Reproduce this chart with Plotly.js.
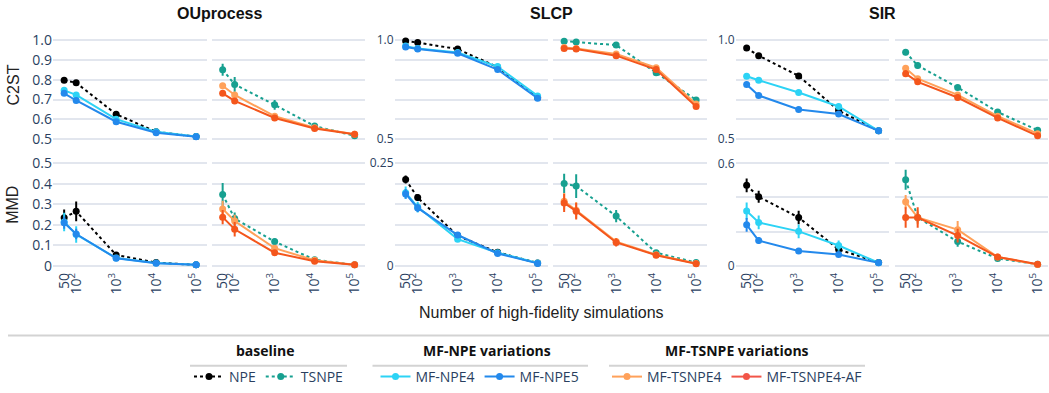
<!DOCTYPE html>
<html><head><meta charset="utf-8">
<script src="https://cdn.plot.ly/plotly-3.0.1.min.js"></script>
<style>html,body{margin:0;padding:0;background:#fff}#chart{width:1049px;height:393px}</style>
</head><body><div id="chart"></div>
<script>
const W = 1049, H = 393;
const sims = [50, 100, 1000, 10000, 100000];
const simTickText = ['50', '10<sup>2</sup>', '10<sup>3</sup>', '10<sup>4</sup>', '10<sup>5</sup>'];
const problems = ['OUprocess', 'SLCP', 'SIR'];
const metrics = ['C2ST', 'MMD'];
const methodsLeft = ['NPE', 'MF-NPE4', 'MF-NPE5'];
const methodsRight = ['TSNPE', 'MF-TSNPE4', 'MF-TSNPE4-AF'];
const legendGroupTitles = ['baseline', 'MF-NPE variations', 'MF-TSNPE variations'];

// ---- C2ST ----
const OU_C2ST_NPE = [0.797, 0.784, 0.626, 0.537, 0.513];
const OU_C2ST_NPE_err = [0.010, 0.012, 0.006, 0.004, 0.003];
const OU_C2ST_MFNPE4 = [0.746, 0.723, 0.601, 0.537, 0.514];
const OU_C2ST_MFNPE4_err = [0.010, 0.010, 0.006, 0.004, 0.003];
const OU_C2ST_MFNPE5 = [0.731, 0.695, 0.588, 0.533, 0.512];
const OU_C2ST_MFNPE5_err = [0.008, 0.008, 0.006, 0.004, 0.003];
const OU_C2ST_TSNPE = [0.850, 0.776, 0.673, 0.566, 0.517];
const OU_C2ST_TSNPE_err = [0.030, 0.037, 0.025, 0.008, 0.004];
const OU_C2ST_MFTSNPE4 = [0.769, 0.723, 0.616, 0.558, 0.525];
const OU_C2ST_MFTSNPE4_err = [0.010, 0.010, 0.008, 0.005, 0.004];
const OU_C2ST_MFTSNPE4AF = [0.731, 0.693, 0.607, 0.554, 0.525];
const OU_C2ST_MFTSNPE4AF_err = [0.010, 0.010, 0.008, 0.005, 0.004];

const SLCP_C2ST_NPE = [0.995, 0.987, 0.954, 0.863, 0.710];
const SLCP_C2ST_NPE_err = [0.003, 0.004, 0.004, 0.005, 0.006];
const SLCP_C2ST_MFNPE4 = [0.969, 0.957, 0.937, 0.866, 0.718];
const SLCP_C2ST_MFNPE4_err = [0.005, 0.005, 0.005, 0.006, 0.006];
const SLCP_C2ST_MFNPE5 = [0.965, 0.954, 0.933, 0.851, 0.706];
const SLCP_C2ST_MFNPE5_err = [0.005, 0.005, 0.005, 0.006, 0.006];
const SLCP_C2ST_TSNPE = [0.994, 0.990, 0.974, 0.835, 0.698];
const SLCP_C2ST_TSNPE_err = [0.003, 0.003, 0.005, 0.008, 0.008];
const SLCP_C2ST_MFTSNPE4 = [0.962, 0.957, 0.929, 0.860, 0.677];
const SLCP_C2ST_MFTSNPE4_err = [0.005, 0.005, 0.006, 0.006, 0.008];
const SLCP_C2ST_MFTSNPE4AF = [0.957, 0.954, 0.921, 0.851, 0.665];
const SLCP_C2ST_MFTSNPE4AF_err = [0.005, 0.005, 0.006, 0.006, 0.008];

const SIR_C2ST_NPE = [0.959, 0.921, 0.819, 0.644, 0.542];
const SIR_C2ST_NPE_err = [0.004, 0.005, 0.006, 0.005, 0.004];
const SIR_C2ST_MFNPE4 = [0.817, 0.797, 0.735, 0.665, 0.542];
const SIR_C2ST_MFNPE4_err = [0.006, 0.006, 0.006, 0.006, 0.004];
const SIR_C2ST_MFNPE5 = [0.776, 0.720, 0.650, 0.627, 0.542];
const SIR_C2ST_MFNPE5_err = [0.006, 0.005, 0.004, 0.004, 0.004];
const SIR_C2ST_TSNPE = [0.938, 0.871, 0.761, 0.637, 0.545];
const SIR_C2ST_TSNPE_err = [0.015, 0.015, 0.012, 0.010, 0.005];
const SIR_C2ST_MFTSNPE4 = [0.858, 0.805, 0.723, 0.616, 0.528];
const SIR_C2ST_MFTSNPE4_err = [0.015, 0.012, 0.012, 0.008, 0.005];
const SIR_C2ST_MFTSNPE4AF = [0.830, 0.789, 0.710, 0.607, 0.517];
const SIR_C2ST_MFTSNPE4AF_err = [0.017, 0.015, 0.015, 0.008, 0.005];

// ---- MMD ----
const OU_MMD_NPE = [0.234, 0.265, 0.053, 0.016, 0.005];
const OU_MMD_NPE_err = [0.040, 0.048, 0.008, 0.003, 0.002];
const OU_MMD_MFNPE4 = [0.213, 0.153, 0.038, 0.014, 0.005];
const OU_MMD_MFNPE4_err = [0.045, 0.040, 0.008, 0.003, 0.002];
const OU_MMD_MFNPE5 = [0.210, 0.155, 0.037, 0.013, 0.005];
const OU_MMD_MFNPE5_err = [0.030, 0.025, 0.006, 0.003, 0.002];
const OU_MMD_TSNPE = [0.347, 0.230, 0.118, 0.030, 0.005];
const OU_MMD_TSNPE_err = [0.056, 0.030, 0.015, 0.005, 0.002];
const OU_MMD_MFTSNPE4 = [0.277, 0.218, 0.086, 0.027, 0.005];
const OU_MMD_MFTSNPE4_err = [0.040, 0.030, 0.010, 0.004, 0.002];
const OU_MMD_MFTSNPE4AF = [0.237, 0.178, 0.064, 0.022, 0.005];
const OU_MMD_MFTSNPE4AF_err = [0.035, 0.035, 0.010, 0.004, 0.002];

const SLCP_MMD_NPE = [0.210, 0.166, 0.073, 0.033, 0.007];
const SLCP_MMD_NPE_err = [0.010, 0.008, 0.004, 0.003, 0.001];
const SLCP_MMD_MFNPE4 = [0.178, 0.143, 0.065, 0.032, 0.007];
const SLCP_MMD_MFNPE4_err = [0.015, 0.013, 0.005, 0.003, 0.001];
const SLCP_MMD_MFNPE5 = [0.175, 0.141, 0.075, 0.030, 0.006];
const SLCP_MMD_MFNPE5_err = [0.012, 0.010, 0.004, 0.003, 0.001];
const SLCP_MMD_TSNPE = [0.200, 0.194, 0.121, 0.032, 0.008];
const SLCP_MMD_TSNPE_err = [0.024, 0.029, 0.015, 0.004, 0.001];
const SLCP_MMD_MFTSNPE4 = [0.157, 0.135, 0.059, 0.027, 0.006];
const SLCP_MMD_MFTSNPE4_err = [0.020, 0.020, 0.008, 0.003, 0.001];
const SLCP_MMD_MFTSNPE4AF = [0.153, 0.133, 0.057, 0.026, 0.005];
const SLCP_MMD_MFTSNPE4AF_err = [0.022, 0.020, 0.010, 0.003, 0.001];

const SIR_MMD_NPE = [0.471, 0.404, 0.283, 0.096, 0.020];
const SIR_MMD_NPE_err = [0.040, 0.035, 0.040, 0.020, 0.005];
const SIR_MMD_MFNPE4 = [0.321, 0.254, 0.202, 0.119, 0.018];
const SIR_MMD_MFNPE4_err = [0.050, 0.040, 0.040, 0.030, 0.005];
const SIR_MMD_MFNPE5 = [0.240, 0.148, 0.087, 0.066, 0.018];
const SIR_MMD_MFNPE5_err = [0.040, 0.020, 0.015, 0.010, 0.005];
const SIR_MMD_TSNPE = [0.504, 0.283, 0.142, 0.043, 0.010];
const SIR_MMD_TSNPE_err = [0.058, 0.030, 0.030, 0.010, 0.003];
const SIR_MMD_MFTSNPE4 = [0.375, 0.283, 0.212, 0.052, 0.008];
const SIR_MMD_MFTSNPE4_err = [0.040, 0.040, 0.050, 0.010, 0.003];
const SIR_MMD_MFTSNPE4AF = [0.283, 0.283, 0.177, 0.052, 0.010];
const SIR_MMD_MFTSNPE4AF_err = [0.060, 0.060, 0.040, 0.010, 0.003];

// y tick definitions
const c2stTickVals = [0.5, 0.6, 0.7, 0.8, 0.9, 1.0];
const c2stTickTextFull = ['0.5', '0.6', '0.7', '0.8', '0.9', '1.0'];
const c2stTickTextShort = ['0.5', '', '', '', '', '1.0'];
const ouMmdTickVals = [0, 0.1, 0.2, 0.3, 0.4, 0.5];
const ouMmdTickText = ['0', '0.1', '0.2', '0.3', '0.4', '0.5'];
const slcpMmdTickVals = [0, 0.05, 0.1, 0.15, 0.2, 0.25];
const slcpMmdTickText = ['0', '', '', '', '', '0.25'];
const sirMmdTickVals = [0, 0.2, 0.4, 0.6];
const sirMmdTickText = ['0', '', '', '0.6'];

const DATA = {
  OUprocess: {
    C2ST: {'NPE': [OU_C2ST_NPE, OU_C2ST_NPE_err], 'MF-NPE4': [OU_C2ST_MFNPE4, OU_C2ST_MFNPE4_err], 'MF-NPE5': [OU_C2ST_MFNPE5, OU_C2ST_MFNPE5_err],
           'TSNPE': [OU_C2ST_TSNPE, OU_C2ST_TSNPE_err], 'MF-TSNPE4': [OU_C2ST_MFTSNPE4, OU_C2ST_MFTSNPE4_err], 'MF-TSNPE4-AF': [OU_C2ST_MFTSNPE4AF, OU_C2ST_MFTSNPE4AF_err]},
    MMD: {'NPE': [OU_MMD_NPE, OU_MMD_NPE_err], 'MF-NPE4': [OU_MMD_MFNPE4, OU_MMD_MFNPE4_err], 'MF-NPE5': [OU_MMD_MFNPE5, OU_MMD_MFNPE5_err],
           'TSNPE': [OU_MMD_TSNPE, OU_MMD_TSNPE_err], 'MF-TSNPE4': [OU_MMD_MFTSNPE4, OU_MMD_MFTSNPE4_err], 'MF-TSNPE4-AF': [OU_MMD_MFTSNPE4AF, OU_MMD_MFTSNPE4AF_err]}
  },
  SLCP: {
    C2ST: {'NPE': [SLCP_C2ST_NPE, SLCP_C2ST_NPE_err], 'MF-NPE4': [SLCP_C2ST_MFNPE4, SLCP_C2ST_MFNPE4_err], 'MF-NPE5': [SLCP_C2ST_MFNPE5, SLCP_C2ST_MFNPE5_err],
           'TSNPE': [SLCP_C2ST_TSNPE, SLCP_C2ST_TSNPE_err], 'MF-TSNPE4': [SLCP_C2ST_MFTSNPE4, SLCP_C2ST_MFTSNPE4_err], 'MF-TSNPE4-AF': [SLCP_C2ST_MFTSNPE4AF, SLCP_C2ST_MFTSNPE4AF_err]},
    MMD: {'NPE': [SLCP_MMD_NPE, SLCP_MMD_NPE_err], 'MF-NPE4': [SLCP_MMD_MFNPE4, SLCP_MMD_MFNPE4_err], 'MF-NPE5': [SLCP_MMD_MFNPE5, SLCP_MMD_MFNPE5_err],
           'TSNPE': [SLCP_MMD_TSNPE, SLCP_MMD_TSNPE_err], 'MF-TSNPE4': [SLCP_MMD_MFTSNPE4, SLCP_MMD_MFTSNPE4_err], 'MF-TSNPE4-AF': [SLCP_MMD_MFTSNPE4AF, SLCP_MMD_MFTSNPE4AF_err]}
  },
  SIR: {
    C2ST: {'NPE': [SIR_C2ST_NPE, SIR_C2ST_NPE_err], 'MF-NPE4': [SIR_C2ST_MFNPE4, SIR_C2ST_MFNPE4_err], 'MF-NPE5': [SIR_C2ST_MFNPE5, SIR_C2ST_MFNPE5_err],
           'TSNPE': [SIR_C2ST_TSNPE, SIR_C2ST_TSNPE_err], 'MF-TSNPE4': [SIR_C2ST_MFTSNPE4, SIR_C2ST_MFTSNPE4_err], 'MF-TSNPE4-AF': [SIR_C2ST_MFTSNPE4AF, SIR_C2ST_MFTSNPE4AF_err]},
    MMD: {'NPE': [SIR_MMD_NPE, SIR_MMD_NPE_err], 'MF-NPE4': [SIR_MMD_MFNPE4, SIR_MMD_MFNPE4_err], 'MF-NPE5': [SIR_MMD_MFNPE5, SIR_MMD_MFNPE5_err],
           'TSNPE': [SIR_MMD_TSNPE, SIR_MMD_TSNPE_err], 'MF-TSNPE4': [SIR_MMD_MFTSNPE4, SIR_MMD_MFTSNPE4_err], 'MF-TSNPE4-AF': [SIR_MMD_MFTSNPE4AF, SIR_MMD_MFTSNPE4AF_err]}
  }
};

const STYLE = {
  'NPE':          {color: '#000000', legendColor: '#000000', dash: 'dot',   legend: 'legend'},
  'TSNPE':        {color: '#17a090', legendColor: '#17a090', dash: 'dot',   legend: 'legend'},
  'MF-NPE4':      {color: '#2cd3f5', legendColor: '#2cd3f5', dash: 'solid', legend: 'legend2'},
  'MF-NPE5':      {color: '#2389ec', legendColor: '#2389ec', dash: 'solid', legend: 'legend2'},
  'MF-TSNPE4':    {color: '#ffa15a', legendColor: '#ffa15a', dash: 'solid', legend: 'legend3'},
  'MF-TSNPE4-AF': {color: '#f4561c', legendColor: '#f25548', dash: 'solid', legend: 'legend3'}
};

const xStarts = [53, 211.5, 394.5, 553, 735.5, 894.5];
const panelW = 153.5;
const rowDomains = [[1 - 150 / H, 1 - 32 / H], [1 - 274 / H, 1 - 156 / H]];
const yRanges = {
  C2ST: {OUprocess: [0.459, 1.043], SLCP: [0.459, 1.043], SIR: [0.459, 1.043]},
  MMD: {OUprocess: [-0.0158, 0.5478], SLCP: [-0.0079, 0.2739], SIR: [-0.019, 0.659]}
};
const yTicks = {
  C2ST: {OUprocess: [c2stTickVals, c2stTickTextFull], SLCP: [c2stTickVals, c2stTickTextShort], SIR: [c2stTickVals, c2stTickTextShort]},
  MMD: {OUprocess: [ouMmdTickVals, ouMmdTickText], SLCP: [slcpMmdTickVals, slcpMmdTickText], SIR: [sirMmdTickVals, sirMmdTickText]}
};

const traces = [];
const layout = {
  width: W, height: H,
  margin: {l: 0, r: 0, t: 0, b: 0},
  paper_bgcolor: '#ffffff', plot_bgcolor: '#ffffff',
  font: {family: 'Open Sans, sans-serif', color: '#2a3f5f'},
  showlegend: true,
  annotations: [], shapes: []
};

for (let r = 0; r < 2; r++) {
  for (let c = 0; c < 6; c++) {
    const n = r * 6 + c + 1;
    const suffix = n === 1 ? '' : String(n);
    const prob = problems[Math.floor(c / 2)];
    const metric = metrics[r];
    const x0 = xStarts[c];
    layout['xaxis' + suffix] = {
      type: 'log', domain: [x0 / W, (x0 + panelW) / W], range: [1.42, 5.26],
      anchor: 'y' + suffix, tickmode: 'array', tickvals: sims, ticktext: simTickText,
      tickangle: -90, showticklabels: r === 1, showgrid: false, zeroline: false, showline: false,
      ticks: '', tickfont: {family: 'Open Sans, sans-serif', size: 14, color: '#2a3f5f'}
    };
    const tk = yTicks[metric][prob];
    layout['yaxis' + suffix] = {
      domain: rowDomains[r], range: yRanges[metric][prob], anchor: 'x' + suffix,
      tickmode: 'array', tickvals: tk[0], ticktext: tk[1],
      showticklabels: c % 2 === 0, showgrid: true, gridcolor: '#e2e6ee', gridwidth: 2,
      zeroline: false, showline: false, ticks: '',
      tickfont: {family: 'Open Sans, sans-serif', size: prob === 'OUprocess' ? 14 : 12, color: '#2a3f5f'}
    };
    const methods = c % 2 === 0 ? methodsLeft : methodsRight;
    methods.forEach(m => {
      const d = DATA[prob][metric][m];
      const st = STYLE[m];
      traces.push({
        type: 'scatter', mode: 'lines+markers', x: sims, y: d[0],
        xaxis: 'x' + suffix, yaxis: 'y' + suffix, name: m, showlegend: false,
        line: {color: st.color, width: 2, dash: st.dash},
        marker: {color: st.color, size: 7},
        error_y: {type: 'data', array: d[1], visible: true, color: st.color, thickness: 2, width: 0}
      });
    });
  }
}

// legend entries
['NPE', 'TSNPE', 'MF-NPE4', 'MF-NPE5', 'MF-TSNPE4', 'MF-TSNPE4-AF'].forEach(m => {
  const st = STYLE[m];
  traces.push({
    type: 'scatter', mode: 'lines+markers', x: [null], y: [null], name: m,
    legend: st.legend, showlegend: true,
    line: {color: st.legendColor, width: 2, dash: st.dash},
    marker: {color: st.legendColor, size: 7}
  });
});

const legendBase = {
  orientation: 'h', xanchor: 'center', yanchor: 'middle', y: 1 - 384 / H,
  bgcolor: 'rgba(0,0,0,0)', font: {family: 'Open Sans, sans-serif', size: 14, color: '#2a3f5f'}
};
const groupCenters = [268.5, 480, 737];
layout.legend = Object.assign({}, legendBase, {x: groupCenters[0] / W});
layout.legend2 = Object.assign({}, legendBase, {x: groupCenters[1] / W});
layout.legend3 = Object.assign({}, legendBase, {x: groupCenters[2] / W});

// legend group titles
const legendTitleFont = {family: 'Open Sans, sans-serif', size: 14, color: '#111111'};
[265, 487, 737].forEach((cx, i) => {
  layout.annotations.push({xref: 'paper', yref: 'paper', x: cx / W, y: 1 - 357 / H, text: '<b>' + legendGroupTitles[i] + '</b>',
    showarrow: false, font: legendTitleFont, xanchor: 'center', yanchor: 'middle'});
});

// decorative separator lines
const lineStyle = {color: '#d3d3d3', width: 2};
layout.shapes.push({type: 'line', xref: 'paper', yref: 'paper', x0: 8 / W, x1: 1, y0: 1 - 341.7 / H, y1: 1 - 341.7 / H, line: lineStyle});
[[190, 347], [372.5, 588], [609, 865]].forEach(s => {
  layout.shapes.push({type: 'line', xref: 'paper', yref: 'paper', x0: s[0] / W, x1: s[1] / W, y0: 1 - 372.5 / H, y1: 1 - 372.5 / H, line: lineStyle});
});

// column titles
const titleFont = {family: 'Liberation Sans, Arial, sans-serif', size: 16, color: '#111111'};
[[219.5, 'OUprocess'], [551, 'SLCP'], [882, 'SIR']].forEach(t => {
  layout.annotations.push({xref: 'paper', yref: 'paper', x: t[0] / W, y: 1 - 14 / H, text: '<b>' + t[1] + '</b>', showarrow: false, font: titleFont, xanchor: 'center', yanchor: 'middle'});
});
// row titles
const axTitleFont = {family: 'Liberation Sans, Arial, sans-serif', size: 16, color: '#222222'};
[[87, 'C2ST'], [208.5, 'MMD']].forEach(t => {
  layout.annotations.push({xref: 'paper', yref: 'paper', x: 13 / W, y: 1 - t[0] / H, text: t[1], textangle: -90, showarrow: false, font: axTitleFont, xanchor: 'center', yanchor: 'middle'});
});
layout.annotations.push({xref: 'paper', yref: 'paper', x: 541 / W, y: 1 - 318 / H, text: 'Number of high-fidelity simulations', showarrow: false,
  font: {family: 'Liberation Sans, Arial, sans-serif', size: 16, color: '#222222'}, xanchor: 'center', yanchor: 'middle'});

Plotly.newPlot('chart', traces, layout, {displayModeBar: false, staticPlot: true});
</script>
</body></html>
